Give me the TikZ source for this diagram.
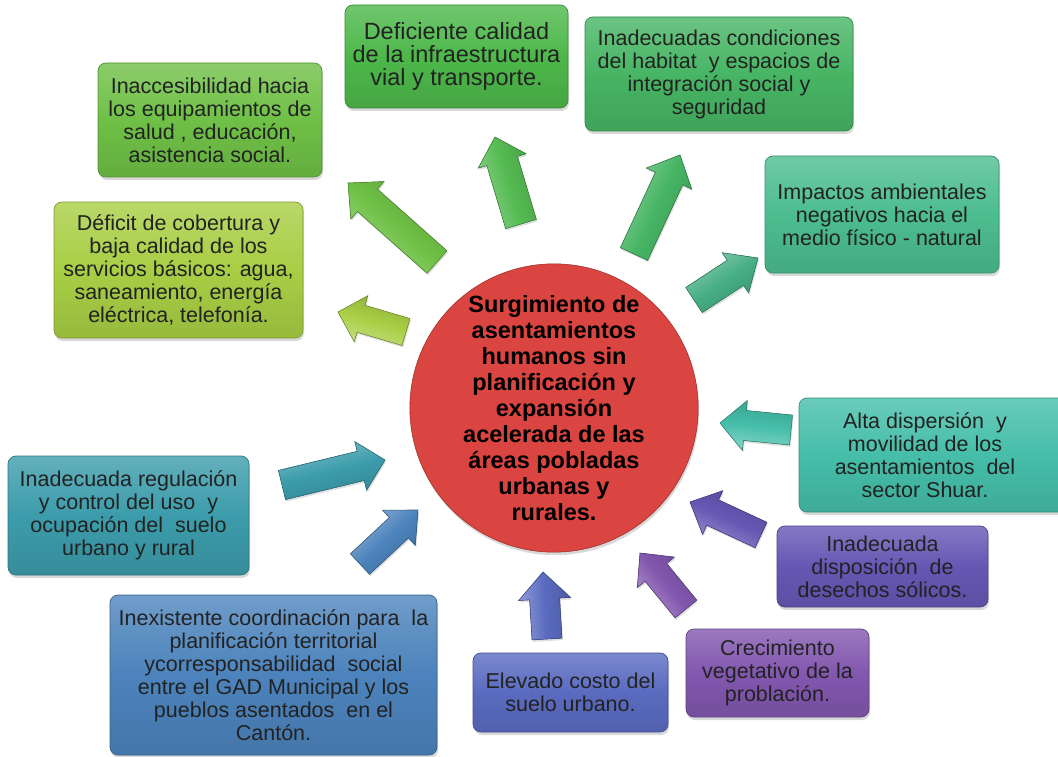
\documentclass[tikz,border=0pt]{standalone}
\usepackage{fontspec}
\setmainfont{Liberation Sans}
\usetikzlibrary{calc,shadows}

% palette
\definecolor{cDef}{HTML}{4DB84A}
\definecolor{cHab}{HTML}{47B564}
\definecolor{cImp}{HTML}{4CBD8E}
\definecolor{cAcc}{HTML}{6FC046}
\definecolor{cSer}{HTML}{A8CE44}
\definecolor{cReg}{HTML}{3C9CAB}
\definecolor{cCoo}{HTML}{4C83BC}
\definecolor{cCos}{HTML}{5A6BC0}
\definecolor{cCre}{HTML}{8257AF}
\definecolor{cDes}{HTML}{6657B4}
\definecolor{cShu}{HTML}{45BEA9}
\definecolor{cA}{HTML}{DA4541}
\definecolor{cB}{HTML}{B5312D}
\definecolor{ink}{HTML}{222222}

\pgfdeclareradialshading{redball}{\pgfpointorigin}{%
  color(0bp)=(cA); color(36bp)=(cA); color(50bp)=(cB)}

\tikzset{
  cbox/.style={rectangle, rounded corners=8pt, draw=#1!75!black, line width=0.7pt,
    top color=#1!80!white, bottom color=#1!90!black, middle color=#1,
    drop shadow={opacity=0.3, shadow xshift=1pt, shadow yshift=-3pt},
    align=center, text=ink, inner sep=0pt,
    font=\fontsize{21.5}{23}\selectfont},
  arrowfill/.style={top color=#1!65!white, bottom color=#1!85!black, middle color=#1,
    draw=#1!72!black, line width=0.6pt,
    drop shadow={opacity=0.25, shadow xshift=1pt, shadow yshift=-2pt}},
  core/.style={circle, minimum size=286pt, inner sep=0pt, shading=redball,
    draw=cB!85!black, line width=0.5pt,
    drop shadow={opacity=0.3, shadow xshift=1pt, shadow yshift=-3pt},
    align=center, text=black, font=\bfseries\fontsize{23.5}{26}\selectfont},
}

% block arrow: #1 tail, #2 tip, #3 shaft half width, #4 head half width,
% #5 head length, #6 colour; shaded across its width, light on the left side
\newcommand\blockarrow[6]{%
  \path let \p1=($(#2)-(#1)$), \n1={atan2(\y1,\x1)} in
    \pgfextra{\xdef\baangle{\n1}};
  \path ($(#2)!#5!(#1)$) coordinate (ba-base);
  \filldraw[arrowfill=#6, shading angle=\baangle]
    ($(#1)!#3!90:(#2)$) -- ($(ba-base)!#3!90:(#2)$) -- ($(ba-base)!#4!90:(#2)$)
    -- (#2) -- ($(ba-base)!#4!-90:(#2)$) -- ($(ba-base)!#3!-90:(#2)$)
    -- ($(#1)!#3!-90:(#2)$) -- cycle;
}

\begin{document}
\begin{tikzpicture}[x=1pt,y=-1pt]
\useasboundingbox (0,0) rectangle (1058,757);
\clip (0,0) rectangle (1058,757);
\fill[white] (0,0) rectangle (1058,757);

% central problem
\node[core] (core) at (554,408)
  {Surgimiento de\\asentamientos\\humanos sin\\planificación y\\expansión\\acelerada de las\\áreas pobladas\\urbanas y\\rurales.};

% effects (upper half)
\node[cbox=cDef, minimum width=223pt, minimum height=103pt,
      font=\fontsize{23.5}{23}\selectfont] (defic) at (456.5,56.5)
  {Deficiente calidad\\de la infraestructura\\vial y transporte.};
\node[cbox=cHab, minimum width=268pt, minimum height=114pt] (habitat) at (719,74)
  {Inadecuadas condiciones\\del habitat~ y espacios de\\integración social y\\seguridad};
\node[cbox=cImp, minimum width=234pt, minimum height=117pt] (impact) at (882,214.5)
  {Impactos ambientales\\negativos hacia el\\medio físico - natural};
\node[cbox=cAcc, minimum width=224pt, minimum height=114pt] (inacc) at (210,120)
  {Inaccesibilidad hacia\\los equipamientos de\\salud , educación,\\asistencia social.};
\node[cbox=cSer, minimum width=249pt, minimum height=136pt] (servic) at (178.5,270)
  {Déficit de cobertura y\\baja calidad de los\\servicios básicos: agua,\\saneamiento, energía\\eléctrica, telefonía.};

% causes (lower half)
\node[cbox=cReg, minimum width=241pt, minimum height=119pt] (regul) at (128.5,515.5)
  {Inadecuada regulación\\y control del uso~ y\\ocupación del~ suelo\\urbano y rural};
\node[cbox=cCoo, minimum width=327pt, minimum height=160pt] (coord) at (273.5,675)
  {Inexistente coordinación para~ la\\planificación territorial\\ycorresponsabilidad~ social\\entre el GAD Municipal y los\\pueblos asentados~ en el\\Cantón.};
\node[cbox=cCos, minimum width=195pt, minimum height=79pt] (costo) at (570.5,692.5)
  {Elevado costo del\\suelo urbano.};
\node[cbox=cCre, minimum width=183pt, minimum height=88pt] (crecim) at (777.5,673)
  {Crecimiento\\vegetativo de la\\problación.};
\node[cbox=cDes, minimum width=211pt, minimum height=81pt] (desech) at (882.5,566.5)
  {Inadecuada\\disposición~ de\\desechos sólicos.};
\node[cbox=cShu, minimum width=267pt, minimum height=114pt] (shuar) at (932.5,455) {};
\node[align=center, text=ink, font=\fontsize{21.5}{23}\selectfont] (shuartext) at (925,455)
  {Alta dispersión~ y\\movilidad de los\\asentamientos~ del\\sector Shuar.};

% arrow end points
\coordinate (t1) at (521,224);  \coordinate (h1) at (495,137);
\coordinate (t2) at (437,262);  \coordinate (h2) at (348,183);
\coordinate (t3) at (406,332);  \coordinate (h3) at (338,312);
\coordinate (t4) at (634,254);  \coordinate (h4) at (680,155);
\coordinate (t5) at (694,300);  \coordinate (h5) at (758,258);
\coordinate (t6) at (791,430);  \coordinate (h6) at (720,423);
\coordinate (t7) at (761,535);  \coordinate (h7) at (690,502);
\coordinate (t8) at (686,609);  \coordinate (h8) at (640,553);
\coordinate (t9) at (547,639);  \coordinate (h9) at (543,572);
\coordinate (t10) at (360,564); \coordinate (h10) at (418,510);
\coordinate (t11) at (282,485); \coordinate (h11) at (385,460);

% core -> effects
\blockarrow{t1}{h1}{16pt}{25pt}{25pt}{cDef!95!white}
\blockarrow{t2}{h2}{15pt}{25pt}{26pt}{cAcc}
\blockarrow{t3}{h3}{14pt}{24pt}{24pt}{cSer}
\blockarrow{t4}{h4}{15pt}{25pt}{26pt}{cHab}
\blockarrow{t5}{h5}{15pt}{24pt}{27pt}{cImp!92!black}
% causes -> core
\blockarrow{t6}{h6}{15pt}{25pt}{25pt}{cShu}
\blockarrow{t7}{h7}{14pt}{24pt}{25pt}{cDes}
\blockarrow{t8}{h8}{14pt}{24pt}{25pt}{cCre}
\blockarrow{t9}{h9}{15pt}{26pt}{27pt}{cCos}
\blockarrow{t10}{h10}{14pt}{24pt}{26pt}{cCoo}
\blockarrow{t11}{h11}{15pt}{25pt}{25pt}{cReg}
\end{tikzpicture}
\end{document}
